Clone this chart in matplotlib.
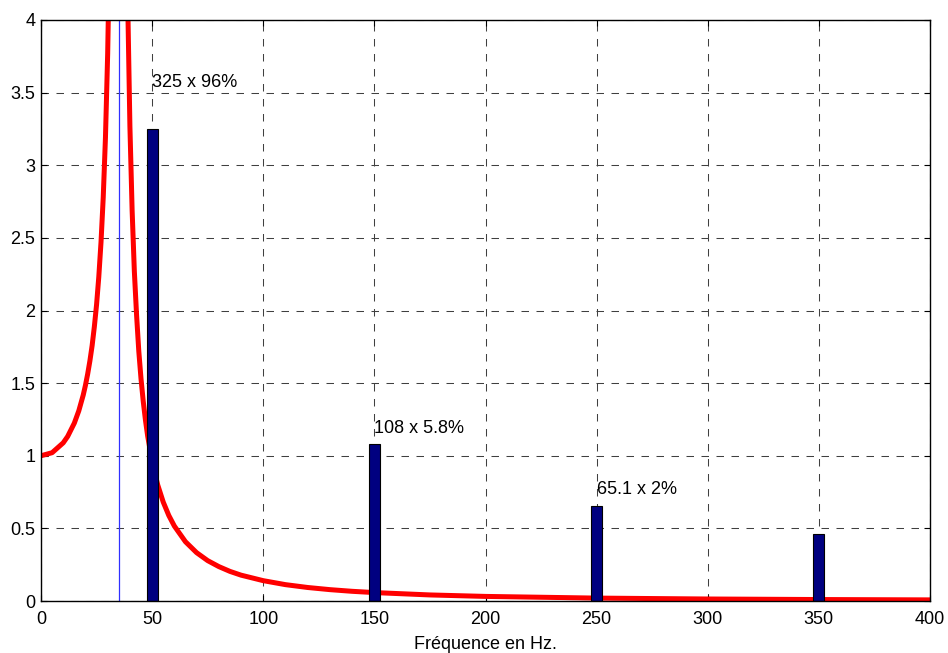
import matplotlib
matplotlib.use("Agg")
import matplotlib.pyplot as plt

# amplification factor of the filter vs. frequency (Hz)
freq = [0, 5, 10, 12, 15, 17, 19, 20, 21, 22, 23, 24, 25, 26, 27, 28, 29,
        30, 31, 32, 33, 34,
        36, 37, 38, 39, 40, 41, 42, 43, 44, 45, 46, 47, 48, 50, 52.5, 55,
        57.5, 60, 65, 70, 75, 80, 85, 90, 100, 110, 120, 130, 140, 150, 175,
        200, 250, 300, 350, 400]
gain = [1.00, 1.021, 1.089, 1.133, 1.225, 1.309, 1.418, 1.485, 1.563,
        1.653, 1.758, 1.888, 2.04, 2.231, 2.47, 2.778, 3.19, 3.769, 4.64,
        6.09, 9.01, 17.8,
        17.3, 8.50, 5.59, 4.14, 3.27, 2.69, 2.27, 1.97, 1.72, 1.53, 1.375,
        1.245, 1.135, 0.961, 0.80, 0.681, 0.589, 0.516, 0.408, 0.333, 0.278,
        0.237, 0.204, 0.178, 0.140, 0.1126, 0.093, 0.0782, 0.0667, 0.058,
        0.0417, 0.0316, 0.020, 0.0138, 0.0101, 0.0077]

f_resonance = 35

# harmonic spectrum
harm_freq = [50, 150, 250, 350]
harm_amp = [3.25, 1.08, 0.651, 0.46]
harm_labels = ["325 x 96%", "108 x 5.8%", "65.1 x 2%", None]
label_y = [3.57, 1.19, 0.77, None]

x_ticks = list(range(0, 401, 50))
y_ticks = [0, 0.5, 1, 1.5, 2, 2.5, 3, 3.5, 4]
y_tick_labels = ["0", "0.5", "1", "1.5", "2", "2.5", "3", "3.5", "4"]

plt.rcParams["font.family"] = ["Liberation Sans", "DejaVu Sans"]
plt.rcParams["font.size"] = 13
plt.rcParams["lines.scale_dashes"] = False

fig = plt.figure(figsize=(9.48, 6.53), dpi=100)
ax = fig.add_axes([41 / 948, 52 / 653, 889 / 948, 581 / 653])

ax.plot(freq, gain, color="red", lw=3.6, solid_capstyle="round", zorder=3)
ax.axvline(f_resonance, color="#3030ff", lw=0.9, zorder=2)
ax.bar(harm_freq, harm_amp, width=5, color="#000080", edgecolor="black",
       lw=0.8, zorder=4)

for f, lab, ly in zip(harm_freq, harm_labels, label_y):
    if lab:
        ax.text(f, ly, lab, ha="left", va="center", fontsize=13, zorder=5)

ax.set_xlim(0, 400)
ax.set_ylim(0, 4)
ax.set_xticks(x_ticks)
ax.set_yticks(y_ticks)
ax.set_yticklabels(y_tick_labels)
ax.tick_params(direction="in", top=True, right=True, length=4, width=0.8,
               labelsize=13)
ax.tick_params(axis="x", pad=7)
ax.tick_params(axis="y", pad=4)
ax.grid(True, color="0.25", lw=0.75, linestyle=(0, (5.4, 5.4)), zorder=1)
ax.set_axisbelow(True)
for sp in ax.spines.values():
    sp.set_linewidth(1.0)
    sp.set_zorder(6)

ax.set_xlabel("Fréquence en Hz.", fontsize=13, labelpad=6)

fig.savefig("out.png", dpi=100)
